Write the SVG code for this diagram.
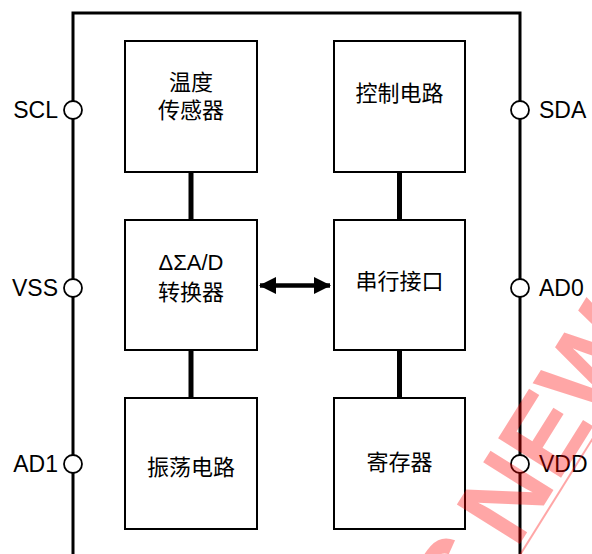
<svg xmlns="http://www.w3.org/2000/svg" width="592" height="554" viewBox="0 0 592 554">
<style>
.blk{fill:#fff;stroke:#000;stroke-width:2}
.t{font-family:"Liberation Sans","Noto Sans CJK SC",sans-serif;font-size:22px;fill:#000;text-anchor:middle}
.pl{font-family:"Liberation Sans","Noto Sans CJK SC",sans-serif;font-size:23px;fill:#000}
.pin{fill:#fff;stroke:#000;stroke-width:1.8}
.bus{stroke:#000;stroke-width:5}
.wm{font-family:"Liberation Sans",sans-serif;font-weight:bold;font-size:108px;fill:#ff0000;fill-opacity:0.35}
</style>
<defs>
<marker id="ah" viewBox="0 0 17 17" refX="16" refY="8.5" markerWidth="17" markerHeight="17" markerUnits="userSpaceOnUse" orient="auto-start-reverse">
<path d="M0,0 L17,8.5 L0,17 Z" fill="#000"/>
</marker>
</defs>
<rect width="592" height="554" fill="#fff"/>
<g id="chip">
<path d="M73,560 V13 H520 V560" fill="none" stroke="#000" stroke-width="3"/>
</g>
<g id="connectors">
<line class="bus" x1="191" y1="172" x2="191" y2="220"/>
<line class="bus" x1="191" y1="350" x2="191" y2="398"/>
<line class="bus" x1="399.5" y1="172" x2="399.5" y2="220"/>
<line class="bus" x1="399.5" y1="350" x2="399.5" y2="398"/>
<line x1="260" y1="285.5" x2="330" y2="285.5" stroke="#000" stroke-width="4.5" marker-start="url(#ah)" marker-end="url(#ah)"/>
</g>
<g id="temp-sensor"><rect class="blk" x="125" y="41" width="132" height="131"/><text class="t" x="191" y="90">温度</text><text class="t" x="191" y="118">传感器</text></g>
<g id="control"><rect class="blk" x="334" y="41" width="131" height="131"/><text class="t" x="399.5" y="101">控制电路</text></g>
<g id="adc"><rect class="blk" x="125" y="220" width="132" height="130"/><text class="t" x="191" y="270">ΔΣA/D</text><text class="t" x="191" y="300">转换器</text></g>
<g id="serial"><rect class="blk" x="334" y="220" width="131" height="130"/><text class="t" x="399.5" y="289">串行接口</text></g>
<g id="osc"><rect class="blk" x="125" y="398" width="132" height="131"/><text class="t" x="191" y="475">振荡电路</text></g>
<g id="reg"><rect class="blk" x="334" y="398" width="131" height="131"/><text class="t" x="399.5" y="470">寄存器</text></g>
<g id="pin-scl"><circle class="pin" cx="73" cy="110" r="9"/><text class="pl" x="58" y="118" text-anchor="end">SCL</text></g>
<g id="pin-vss"><circle class="pin" cx="73" cy="288" r="9"/><text class="pl" x="58" y="296" text-anchor="end">VSS</text></g>
<g id="pin-ad1"><circle class="pin" cx="73" cy="464" r="9"/><text class="pl" x="58" y="472" text-anchor="end">AD1</text></g>
<g id="pin-sda"><circle class="pin" cx="520" cy="110" r="9"/><text class="pl" x="539" y="118">SDA</text></g>
<g id="pin-ad0"><circle class="pin" cx="520" cy="288" r="9"/><text class="pl" x="539" y="296">AD0</text></g>
<g id="pin-vdd"><circle class="pin" cx="520" cy="464" r="9"/><text class="pl" x="539" y="472">VDD</text></g>
<g id="watermark" transform="translate(516,550) rotate(-58)">
<text class="wm" x="0" y="0">NEW</text>
<text class="wm" x="-18" y="0" text-anchor="end">S</text>
<line x1="-80" y1="6" x2="260" y2="6" stroke="#ff0000" stroke-opacity="0.35" stroke-width="2"/>
</g>
</svg>
